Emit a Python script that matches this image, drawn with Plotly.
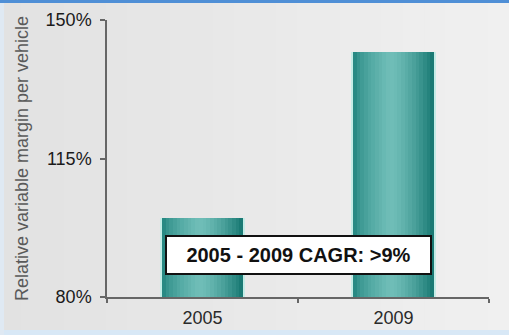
import plotly.graph_objects as go

# Data
years = ["2005", "2009"]
margin_pct = [100, 142]
y_ticks = [80, 115, 150]
y_tick_labels = ["80%", "115%", "150%"]
cagr_label = "2005 - 2009 CAGR: >9%"

W, H = 509, 335
ML, MR, MT, MB = 107, 20, 20, 38
PW, PH = W - ML - MR, H - MT - MB


def px_x(px):
    return (px - ML) / PW


def px_y(py):
    return (H - MB - py) / PH


def lerp(c1, c2, t):
    return tuple(round(a + (b - a) * t) for a, b in zip(c1, c2))


def hexc(c):
    return "#%02x%02x%02x" % c


fig = go.Figure()

# Cylinder-style bars: a light rim, then vertical strips shading dark-light-dark
bar_w = 0.43
fig.add_trace(go.Bar(x=years, y=margin_pct, width=bar_w + 0.012,
                     marker=dict(color="#c4ece6", line=dict(width=0)),
                     hoverinfo="skip", showlegend=False))
dark_l, light, dark_r = (26, 128, 122), (112, 190, 184), (20, 118, 112)
n = 22
inner = bar_w - 0.006
sw = inner / n
for i in range(n):
    t = (i + 0.5) / n
    if t < 0.45:
        c = lerp(dark_l, light, (t / 0.45) ** 0.6)
    else:
        c = lerp(light, dark_r, ((t - 0.45) / 0.55) ** 1.5)
    fig.add_trace(go.Bar(x=years, y=margin_pct, width=sw * 1.08,
                         offset=-inner / 2 + i * sw,
                         marker=dict(color=hexc(c), line=dict(width=0)),
                         hoverinfo="skip", showlegend=False))

# Background: soft horizontal grey gradient with blue frame edges
shapes = []
ns = 24
for i in range(ns):
    t = i / (ns - 1)
    c = lerp((226, 226, 226), (240, 240, 240), t)
    shapes.append(dict(type="rect", xref="paper", yref="paper", layer="below",
                       x0=px_x(i * W / ns), x1=px_x((i + 1) * W / ns + 1),
                       y0=px_y(H), y1=px_y(0), line=dict(width=0),
                       fillcolor=hexc(c)))
shapes.append(dict(type="rect", xref="paper", yref="paper", layer="below",
                   x0=px_x(0), x1=px_x(W), y0=px_y(3), y1=px_y(0),
                   line=dict(width=0), fillcolor="#4f8fd6"))
shapes.append(dict(type="rect", xref="paper", yref="paper", layer="below",
                   x0=px_x(0), x1=px_x(W), y0=px_y(H), y1=px_y(330),
                   line=dict(width=0), fillcolor="#d8e8f6"))
shapes.append(dict(type="rect", xref="paper", yref="paper", layer="below",
                   x0=px_x(0), x1=px_x(4), y0=px_y(H), y1=px_y(3),
                   line=dict(width=0), fillcolor="#dfe9f3"))

fig.update_layout(
    width=W, height=H,
    margin=dict(l=ML, r=MR, t=MT, b=MB),
    paper_bgcolor="#e9e9e9",
    plot_bgcolor="rgba(0,0,0,0)",
    barmode="overlay",
    bargap=0,
    font=dict(family="Liberation Sans, Arial, sans-serif", color="#222"),
    shapes=shapes,
    xaxis=dict(
        type="category", showgrid=False, showline=True, linecolor="#666",
        linewidth=1.5, ticks="outside", ticklen=4, tickcolor="#666",
        tickwidth=1.5, tickson="boundaries", tickfont=dict(size=18, color="#2a2a2a"),
        ticklabelstandoff=4, automargin=False,
        fixedrange=True,
    ),
    yaxis=dict(
        range=[80, 150], tickvals=y_ticks, ticktext=y_tick_labels,
        showgrid=False, zeroline=False, showline=True, linecolor="#666",
        linewidth=1.5, ticks="outside", ticklen=5, tickcolor="#666",
        tickwidth=1.5, tickfont=dict(size=18, color="#1a1a1a"),
        ticklabelstandoff=5, automargin=False,
        title=dict(text="Relative variable margin per vehicle",
                   font=dict(size=18, color="#5a5a5a"), standoff=12),
        fixedrange=True,
    ),
    annotations=[dict(
        x=0.5, xref="paper", y=90.6, yref="y", text="<b>%s</b>" % cagr_label,
        showarrow=False, font=dict(size=20, color="#111"),
        bgcolor="#ffffff", bordercolor="#111", borderwidth=2, borderpad=2,
        width=259, height=32, align="center", valign="middle",
    )],
)

fig.write_html("out.html")
